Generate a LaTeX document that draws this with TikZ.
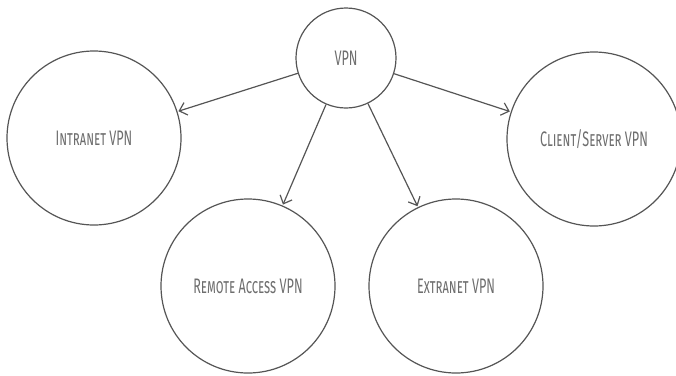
\documentclass[tikz,border=0pt]{standalone}
\usepackage{fontspec}
\usepackage{tikz}
\usetikzlibrary{arrows.meta}
\newfontfamily\labelfont{Fira Sans}[FakeStretch=0.6]
\definecolor{linegray}{RGB}{85,85,85}
\definecolor{textgray}{RGB}{110,110,110}
\tikzset{
  vpnblock/.style={circle, draw=linegray, line width=1.2pt, text=textgray,
    minimum size=174pt, inner sep=0pt, font=\labelfont\fontsize{21}{24}\selectfont},
  hub/.style={vpnblock, minimum size=100pt},
  arrow/.style={-{Straight Barb[length=7pt, width=13pt]}, line width=1.2pt,
    color=linegray, shorten >=1pt},
}
\begin{document}
\begin{tikzpicture}[x=1pt, y=-1pt]

  \useasboundingbox (0,0) rectangle (676,375);

  %% Root
  \node[hub] (vpn) at (346,58) {VPN};

  %% VPN types
  \node[vpnblock] (intranet) at (94,138)  {\textsc{Intranet VPN}};
  \node[vpnblock] (remote)   at (248,286) {\textsc{Remote Access VPN}};
  \node[vpnblock] (extranet) at (456,286) {\textsc{Extranet VPN}};
  \node[vpnblock] (client)   at (594,139) {\textsc{Client/Server VPN}};

  %% Links
  \draw[arrow] (vpn) -- (intranet);
  \draw[arrow] (vpn) -- (remote);
  \draw[arrow] (vpn) -- (extranet);
  \draw[arrow] (vpn) -- (client);

\end{tikzpicture}
\end{document}
